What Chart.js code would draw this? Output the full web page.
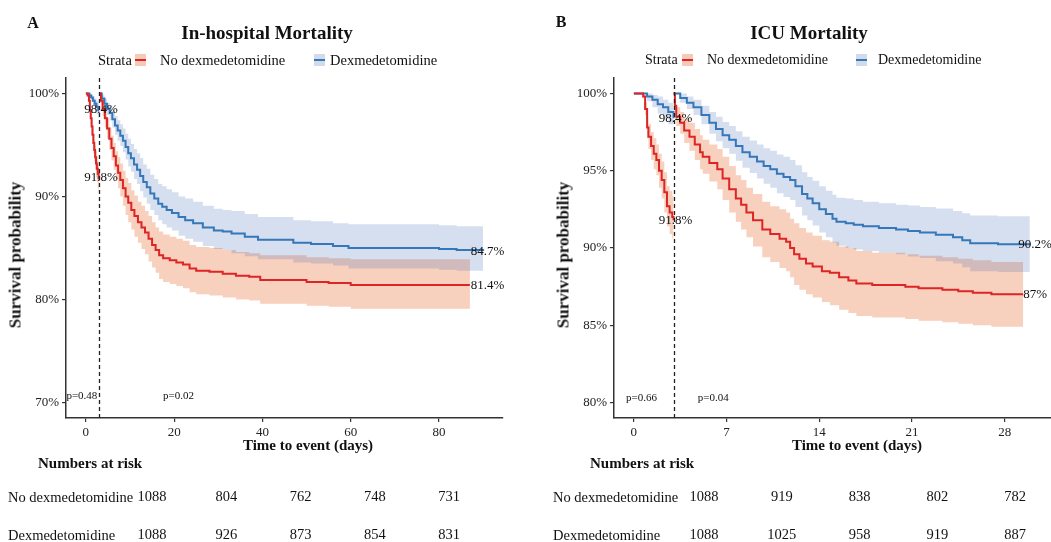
<!DOCTYPE html>
<html>
<head>
<meta charset="utf-8">
<script src="https://cdn.jsdelivr.net/npm/chart.js@4.4.1/dist/chart.umd.min.js"></script>
<style>
  body { margin: 0; background: #fff; }
  #wrap { position: relative; width: 1051px; height: 542px; overflow: hidden;
          font-family: "Liberation Serif", "Times New Roman", serif; color: #111; }
  canvas { position: absolute; }
  .t { position: absolute; white-space: nowrap; line-height: 1; }
  .c { transform: translate(-50%, -50%); }
  .l { transform: translateY(-50%); }
  .b { font-weight: bold; }
  .rot { transform: translate(-50%, -50%) rotate(-90deg); }
  .key { position: absolute; width: 11px; height: 12px; transform: translateY(-50%); }
  .key::after { content: ""; position: absolute; left: 0; right: 0; top: 5px; height: 2px; background: currentColor; }
</style>
</head>
<body>
<div id="wrap">
  <canvas id="hospCanvas" width="526" height="542" style="left:0;top:0"></canvas>
  <canvas id="icuCanvas" width="525" height="542" style="left:526px;top:0"></canvas>
  <canvas id="hospRisk" width="526" height="62" style="left:0;top:480px"></canvas>
  <canvas id="icuRisk" width="525" height="62" style="left:526px;top:480px"></canvas>

  <div class="t c b" style="left:33px;top:23px;font-size:16px">A</div>
  <div class="t c b" style="left:267px;top:32px;font-size:19px">In-hospital Mortality</div>
  <div class="t l" style="left:98px;top:60px;font-size:14.5px">Strata</div>
  <div class="key" style="left:135px;top:60px;background:#f5cbb8;color:#dd2525"></div>
  <div class="t l" id="hospLeg0" style="left:160px;top:60px;font-size:14.5px"></div>
  <div class="key" style="left:314px;top:60px;background:#d2dbea;color:#3577b8"></div>
  <div class="t l" id="hospLeg1" style="left:330px;top:60px;font-size:14.5px"></div>
  <div class="t rot b" style="left:15px;top:255px;font-size:17px">Survival probability</div>
  <div class="t c b" style="left:308px;top:445px;font-size:15px">Time to event (days)</div>
  <div class="t l b" style="left:38px;top:463px;font-size:15px">Numbers at risk</div>
  <div class="t l" id="hospRow0" style="left:8px;top:497px;font-size:14.5px"></div>
  <div class="t l" id="hospRow1" style="left:8px;top:535px;font-size:14.5px"></div>

  <div class="t c b" style="left:561px;top:22px;font-size:16px">B</div>
  <div class="t c b" style="left:809px;top:32px;font-size:19px">ICU Mortality</div>
  <div class="t l" style="left:645px;top:60px;font-size:14px">Strata</div>
  <div class="key" style="left:682px;top:60px;background:#f5cbb8;color:#dd2525"></div>
  <div class="t l" id="icuLeg0" style="left:707px;top:60px;font-size:14px"></div>
  <div class="key" style="left:856px;top:60px;background:#d2dbea;color:#3577b8"></div>
  <div class="t l" id="icuLeg1" style="left:878px;top:60px;font-size:14px"></div>
  <div class="t rot b" style="left:563px;top:255px;font-size:17px">Survival probability</div>
  <div class="t c b" style="left:857px;top:445px;font-size:15px">Time to event (days)</div>
  <div class="t l b" style="left:590px;top:463px;font-size:15px">Numbers at risk</div>
  <div class="t l" id="icuRow0" style="left:553px;top:497px;font-size:14.5px"></div>
  <div class="t l" id="icuRow1" style="left:553px;top:535px;font-size:14.5px"></div>
</div>

<script>
// strata
const groups = ['No dexmedetomidine', 'Dexmedetomidine'];
const landmarkDay = 3;

// ---- In-hospital mortality, days 0-3 ----
const hospNoDexT1 = [0, 0.4, 0.7, 0.9, 1.1, 1.3, 1.5, 1.7, 1.9, 2.1, 2.3, 2.5, 2.7, 2.9, 3];
const hospNoDexS1 = [100, 99.8, 99.3, 98.4, 97.6, 96.8, 96.0, 95.2, 94.5, 93.8, 93.2, 92.7, 92.2, 91.8, 91.8];
const hospNoDexLo1 = [100, 99.7, 99.0, 97.9, 96.9, 96.0, 95.1, 94.2, 93.4, 92.6, 91.9, 91.4, 90.8, 90.4, 90.4];
const hospNoDexHi1 = [100, 99.9, 99.6, 98.9, 98.3, 97.6, 96.9, 96.1, 95.5, 94.9, 94.4, 93.9, 93.5, 93.1, 93.1];

const hospDexT1 = [0, 0.5, 0.8, 1.2, 1.6, 2.0, 2.4, 2.8, 3];
const hospDexS1 = [100, 100, 99.8, 99.6, 99.3, 99.0, 98.7, 98.4, 98.4];
const hospDexLo1 = [100, 100, 99.5, 99.2, 98.8, 98.4, 98.0, 97.6, 97.6];
const hospDexHi1 = [100, 100, 100, 99.9, 99.7, 99.5, 99.3, 99.1, 99.1];

// ---- In-hospital mortality, after day 3 ----
const hospNoDexT2 = [3, 3.4, 3.8, 4.3, 4.8, 5.3, 5.8, 6.3, 6.8, 7.3, 7.8, 8.4, 9.0, 9.6, 10.3, 11.0, 11.8, 12.6, 13.4, 14.2, 15.0, 15.8, 16.6, 17.5, 19.0, 20.5, 22.0, 23.5, 25.0, 28.0, 31.0, 34.0, 37.0, 39.5, 45.0, 50.0, 55.0, 60.0, 87.0];
const hospNoDexS2 = [100, 99.3, 98.5, 97.6, 96.6, 95.6, 94.7, 93.9, 93.0, 92.3, 91.6, 90.8, 90.0, 89.4, 88.7, 88.1, 87.5, 87.0, 86.5, 85.9, 85.3, 84.8, 84.3, 84.0, 83.8, 83.6, 83.4, 83.0, 82.8, 82.7, 82.5, 82.3, 82.2, 81.9, 81.9, 81.7, 81.6, 81.4, 81.4];
const hospNoDexLo2 = [100, 98.8, 97.8, 96.7, 95.6, 94.5, 93.5, 92.6, 91.6, 90.8, 90.0, 89.1, 88.2, 87.5, 86.8, 86.1, 85.5, 84.9, 84.4, 83.7, 83.1, 82.6, 82.0, 81.7, 81.5, 81.3, 81.1, 80.7, 80.5, 80.4, 80.2, 80.0, 79.9, 79.6, 79.6, 79.4, 79.3, 79.1, 79.1];
const hospNoDexHi2 = [100, 99.8, 99.2, 98.5, 97.6, 96.7, 95.9, 95.2, 94.4, 93.8, 93.2, 92.5, 91.8, 91.3, 90.6, 90.1, 89.5, 89.1, 88.6, 88.1, 87.5, 87.0, 86.6, 86.3, 86.1, 85.9, 85.7, 85.3, 85.1, 85.0, 84.8, 84.6, 84.5, 84.3, 84.3, 84.1, 84.0, 83.9, 83.9];

const hospDexT2 = [3, 3.6, 4.2, 4.8, 5.4, 6.0, 6.6, 7.2, 7.8, 8.4, 9.0, 9.6, 10.2, 10.9, 11.6, 12.3, 13.0, 13.8, 14.6, 15.5, 16.4, 17.3, 18.3, 19.5, 21.0, 22.5, 24.3, 26.5, 29.0, 31.0, 33.0, 36.0, 39.0, 47.0, 51.0, 56.0, 59.5, 80.0, 84.0, 90.0];
const hospDexS2 = [100, 99.5, 99.0, 98.5, 98.1, 97.5, 96.9, 96.4, 95.9, 95.4, 94.8, 94.2, 93.7, 93.1, 92.6, 92.0, 91.4, 90.9, 90.3, 89.8, 89.3, 89.0, 88.7, 88.4, 88.0, 87.7, 87.4, 87.0, 86.7, 86.6, 86.4, 86.1, 85.8, 85.5, 85.4, 85.2, 85.0, 84.9, 84.8, 84.7];
const hospDexLo2 = [100, 99.1, 98.5, 97.9, 97.4, 96.7, 96.0, 95.4, 94.9, 94.3, 93.6, 92.9, 92.4, 91.7, 91.2, 90.5, 89.9, 89.3, 88.7, 88.2, 87.7, 87.3, 87.0, 86.7, 86.2, 85.9, 85.6, 85.2, 84.9, 84.8, 84.5, 84.2, 83.9, 83.6, 83.5, 83.3, 83.0, 82.9, 82.8, 82.7];
const hospDexHi2 = [100, 99.9, 99.5, 99.1, 98.8, 98.3, 97.8, 97.4, 97.0, 96.6, 96.1, 95.6, 95.1, 94.6, 94.2, 93.7, 93.1, 92.7, 92.1, 91.7, 91.2, 91.0, 90.7, 90.4, 90.0, 89.8, 89.5, 89.1, 88.8, 88.7, 88.6, 88.3, 88.0, 87.7, 87.6, 87.4, 87.3, 87.2, 87.1, 87.0];

// ---- ICU mortality, days 0-3 ----
const icuNoDexT1 = [0, 0.5, 0.7, 0.85, 1.0, 1.1, 1.3, 1.5, 1.7, 1.9, 2.1, 2.3, 2.5, 2.7, 2.9, 3.0];
const icuNoDexS1 = [100, 100, 99.8, 99.0, 97.8, 97.2, 96.6, 96.1, 95.7, 95.0, 94.4, 93.6, 92.7, 92.3, 92.0, 91.8];
const icuNoDexLo1 = [100, 100, 99.7, 98.6, 97.1, 96.4, 95.7, 95.1, 94.7, 93.9, 93.2, 92.3, 91.4, 90.9, 90.6, 90.4];
const icuNoDexHi1 = [100, 100, 99.9, 99.4, 98.5, 98.0, 97.5, 97.1, 96.7, 96.1, 95.6, 94.9, 94.0, 93.7, 93.4, 93.2];

const icuDexT1 = [0, 0.8, 1.0, 1.4, 1.8, 2.2, 2.6, 3.0];
const icuDexS1 = [100, 100, 99.8, 99.6, 99.3, 99.1, 98.8, 98.4];
const icuDexLo1 = [100, 100, 99.5, 99.1, 98.7, 98.4, 98.0, 97.6];
const icuDexHi1 = [100, 100, 100, 99.9, 99.8, 99.6, 99.4, 99.2];

// ---- ICU mortality, after day 3 ----
const icuNoDexT2 = [3, 3.1, 3.2, 3.5, 3.8, 4.2, 4.6, 5.0, 5.2, 5.7, 6.3, 6.7, 7.2, 7.7, 8.1, 8.5, 9.0, 9.7, 10.3, 11.0, 11.5, 11.8, 12.1, 12.5, 13.0, 13.5, 14.2, 14.8, 15.5, 16.2, 16.8, 18.0, 20.5, 21.5, 23.3, 24.5, 25.6, 27.0, 29.4];
const icuNoDexS2 = [100, 99.2, 98.5, 98.1, 97.6, 97.2, 96.7, 96.2, 95.9, 95.5, 95.1, 94.5, 93.8, 93.2, 92.8, 92.3, 91.8, 91.2, 90.9, 90.6, 90.4, 90.0, 89.6, 89.3, 89.0, 88.8, 88.5, 88.4, 88.1, 87.9, 87.7, 87.6, 87.5, 87.4, 87.3, 87.2, 87.1, 87.0, 87.0];
const icuNoDexLo2 = [100, 98.8, 97.9, 97.4, 96.8, 96.3, 95.7, 95.1, 94.8, 94.3, 93.8, 93.1, 92.3, 91.7, 91.2, 90.7, 90.1, 89.4, 89.1, 88.7, 88.5, 88.1, 87.6, 87.3, 87.0, 86.8, 86.5, 86.3, 86.0, 85.8, 85.6, 85.5, 85.4, 85.3, 85.2, 85.1, 85.0, 84.9, 84.9];
const icuNoDexHi2 = [100, 99.6, 99.1, 98.8, 98.4, 98.1, 97.7, 97.3, 97.0, 96.7, 96.4, 95.9, 95.3, 94.7, 94.4, 93.9, 93.5, 93.0, 92.7, 92.5, 92.3, 91.9, 91.6, 91.3, 91.0, 90.8, 90.5, 90.4, 90.1, 90.0, 89.8, 89.7, 89.6, 89.5, 89.4, 89.3, 89.2, 89.1, 89.1];

const icuDexT2 = [3, 3.5, 4.0, 4.5, 5.1, 5.7, 6.2, 6.7, 7.2, 7.7, 8.2, 8.75, 9.3, 9.8, 10.3, 10.8, 11.3, 11.8, 12.2, 12.7, 13.1, 13.5, 14.0, 14.5, 15.0, 15.3, 16.0, 16.6, 17.3, 18.5, 19.8, 20.7, 21.6, 22.8, 24.1, 24.8, 25.4, 27.5, 29.9];
const icuDexS2 = [100, 99.7, 99.4, 99.1, 98.6, 98.1, 97.7, 97.3, 97.0, 96.6, 96.2, 95.9, 95.6, 95.3, 95.1, 94.8, 94.6, 94.4, 94.0, 93.5, 93.2, 92.9, 92.5, 92.2, 91.9, 91.7, 91.6, 91.5, 91.4, 91.3, 91.2, 91.1, 91.0, 90.85, 90.7, 90.5, 90.3, 90.25, 90.2];
const icuDexLo2 = [100, 99.4, 99.0, 98.6, 98.0, 97.4, 96.9, 96.45, 96.1, 95.65, 95.2, 94.85, 94.5, 94.15, 93.9, 93.55, 93.3, 93.1, 92.65, 92.1, 91.8, 91.45, 91.0, 90.7, 90.35, 90.15, 90.0, 89.9, 89.8, 89.7, 89.6, 89.45, 89.35, 89.15, 89.0, 88.75, 88.5, 88.45, 88.35];
const icuDexHi2 = [100, 100, 99.8, 99.6, 99.2, 98.8, 98.5, 98.15, 97.9, 97.55, 97.2, 96.95, 96.7, 96.45, 96.3, 96.05, 95.9, 95.7, 95.35, 94.9, 94.6, 94.35, 94.0, 93.7, 93.45, 93.25, 93.2, 93.1, 93.0, 92.9, 92.8, 92.75, 92.65, 92.55, 92.4, 92.25, 92.1, 92.05, 92.05];

// ticks
const hospXTicks = [0, 20, 40, 60, 80];
const hospYTicks = [70, 80, 90, 100];
const icuXTicks = [0, 7, 14, 21, 28];
const icuYTicks = [80, 85, 90, 95, 100];

// labels on the plots
const hospLandmarkPct = [91.8, 98.4];
const icuLandmarkPct = [91.8, 98.4];
const hospEndPct = [81.4, 84.7];
const icuEndPct = [87, 90.2];
const hospPText = ['p=0.48', 'p=0.02'];
const hospPDay = [-0.9, 21];
const icuPText = ['p=0.66', 'p=0.04'];
const icuPDay = [0.57, 6.0];

// numbers at risk
const hospRiskTimes = [0, 20, 40, 60, 80];
const hospRiskNoDex = [1088, 804, 762, 748, 731];
const hospRiskDex = [1088, 926, 873, 854, 831];
const icuRiskTimes = [0, 7, 14, 21, 28];
const icuRiskNoDex = [1088, 919, 838, 802, 782];
const icuRiskDex = [1088, 1025, 958, 919, 887];

const RED = '#dd2525', BLUE = '#3577b8';
const RED_BAND = 'rgba(235,120,70,0.35)', BLUE_BAND = 'rgba(70,110,180,0.22)';
const FONT = 'Liberation Serif';

function pts(t, v) {
  return t.map((x, i) => ({ x: x, y: v[i] }));
}

function curve(t, s, lo, hi, line, band, bandOrder) {
  const base = { stepped: true, pointRadius: 0, borderWidth: 0, borderColor: 'transparent' };
  return [
    Object.assign({}, base, { data: pts(t, hi), fill: false, order: bandOrder }),
    Object.assign({}, base, { data: pts(t, lo), fill: '-1', backgroundColor: band, order: bandOrder }),
    { data: pts(t, s), stepped: true, pointRadius: 0, borderWidth: 2, borderColor: line, fill: false, order: 0 }
  ];
}

function decor(cfg) {
  return {
    id: 'decor',
    afterDatasetsDraw(chart) {
      const { ctx, chartArea: a, scales: { x, y } } = chart;
      ctx.save();
      const lx = Math.round(x.getPixelForValue(landmarkDay)) + 0.5;
      ctx.strokeStyle = '#222';
      ctx.lineWidth = 1.3;
      ctx.setLineDash([4, 3]);
      ctx.beginPath();
      ctx.moveTo(lx, a.top);
      ctx.lineTo(lx, a.bottom);
      ctx.stroke();
      ctx.setLineDash([]);

      ctx.fillStyle = '#111';
      ctx.textAlign = 'center';
      ctx.textBaseline = 'middle';
      ctx.font = '13px "' + FONT + '"';
      cfg.landmarkPct.forEach(v => ctx.fillText(v + '%', x.getPixelForValue(landmarkDay) + 2, y.getPixelForValue(v)));
      cfg.endPct.forEach(v => ctx.fillText(v + '%', x.getPixelForValue(cfg.endDay), y.getPixelForValue(v)));
      ctx.font = '11px "' + FONT + '"';
      cfg.pText.forEach((p, i) => ctx.fillText(p, x.getPixelForValue(cfg.pDay[i]), y.getPixelForValue(cfg.pY)));
      ctx.restore();
    }
  };
}

function kmChart(id, sets, xr, yr, xTicks, yTicks, yWidth, padRight, cfg) {
  const axisFont = { family: FONT, size: 13 };
  return new Chart(document.getElementById(id), {
    type: 'line',
    data: { datasets: sets },
    options: {
      responsive: false,
      animation: false,
      layout: { padding: { left: 0, right: padRight, top: 78, bottom: 84 } },
      plugins: { legend: { display: false }, tooltip: { enabled: false } },
      scales: {
        x: {
          type: 'linear', min: xr[0], max: xr[1],
          afterBuildTicks: s => { s.ticks = xTicks.map(v => ({ value: v })); },
          afterFit: s => { s.height = 40; },
          grid: { drawOnChartArea: false, drawTicks: true, tickLength: 4, color: '#333', lineWidth: 1.2 },
          border: { display: true, color: '#333', width: 1.5 },
          ticks: { color: '#222', font: axisFont, padding: 3, maxRotation: 0, autoSkip: false }
        },
        y: {
          type: 'linear', min: yr[0], max: yr[1],
          afterBuildTicks: s => { s.ticks = yTicks.map(v => ({ value: v })); },
          afterFit: s => { s.width = yWidth; },
          grid: { drawOnChartArea: false, drawTicks: true, tickLength: 4, color: '#333', lineWidth: 1.2 },
          border: { display: true, color: '#333', width: 1.5 },
          ticks: { color: '#222', font: axisFont, padding: 3, callback: v => v + '%' }
        }
      }
    },
    plugins: [decor(cfg)]
  });
}

function riskChart(id, times, rows, xMax, pad) {
  return new Chart(document.getElementById(id), {
    type: 'scatter',
    data: { datasets: [{ data: [] }] },
    options: {
      responsive: false,
      animation: false,
      layout: { padding: pad },
      plugins: { legend: { display: false }, tooltip: { enabled: false } },
      scales: {
        x: { type: 'linear', min: 0, max: xMax, display: false },
        y: { type: 'linear', min: 0, max: 1, reverse: true, display: false }
      }
    },
    plugins: [{
      id: 'riskText',
      afterDraw(chart) {
        const { ctx, scales: { x, y } } = chart;
        ctx.save();
        ctx.fillStyle = '#111';
        ctx.font = '14.5px "' + FONT + '"';
        ctx.textAlign = 'center';
        ctx.textBaseline = 'middle';
        rows.forEach((row, r) => {
          row.forEach((n, i) => ctx.fillText(String(n), x.getPixelForValue(times[i]), y.getPixelForValue(r)));
        });
        ctx.restore();
      }
    }]
  });
}

// text from the data
['hosp', 'icu'].forEach(p => {
  groups.forEach((g, i) => {
    document.getElementById(p + 'Leg' + i).textContent = g;
    document.getElementById(p + 'Row' + i).textContent = g;
  });
});

const hospSets = [].concat(
  curve(hospNoDexT1, hospNoDexS1, hospNoDexLo1, hospNoDexHi1, RED, RED_BAND, 3),
  curve(hospNoDexT2, hospNoDexS2, hospNoDexLo2, hospNoDexHi2, RED, RED_BAND, 3),
  curve(hospDexT1, hospDexS1, hospDexLo1, hospDexHi1, BLUE, BLUE_BAND, 2),
  curve(hospDexT2, hospDexS2, hospDexLo2, hospDexHi2, BLUE, BLUE_BAND, 2)
);
const icuSets = [].concat(
  curve(icuNoDexT1, icuNoDexS1, icuNoDexLo1, icuNoDexHi1, RED, RED_BAND, 3),
  curve(icuNoDexT2, icuNoDexS2, icuNoDexLo2, icuNoDexHi2, RED, RED_BAND, 3),
  curve(icuDexT1, icuDexS1, icuDexLo1, icuDexHi1, BLUE, BLUE_BAND, 2),
  curve(icuDexT2, icuDexS2, icuDexLo2, icuDexHi2, BLUE, BLUE_BAND, 2)
);

kmChart('hospCanvas', hospSets, [-4.5, 94.5], [68.5, 101.5], hospXTicks, hospYTicks, 66, 23,
  { landmarkPct: hospLandmarkPct, endPct: hospEndPct, endDay: 91, pText: hospPText, pDay: hospPDay, pY: 70.6 });
kmChart('icuCanvas', icuSets, [-1.5, 31.5], [79, 101], icuXTicks, icuYTicks, 88, 0,
  { landmarkPct: icuLandmarkPct, endPct: icuEndPct, endDay: 30.3, pText: icuPText, pDay: icuPDay, pY: 80.3 });

riskChart('hospRisk', hospRiskTimes, [hospRiskNoDex, hospRiskDex], 80, { left: 152, right: 77, top: 17, bottom: 7 });
riskChart('icuRisk', icuRiskTimes, [icuRiskNoDex, icuRiskDex], 28, { left: 178, right: 36, top: 17, bottom: 7 });
</script>
</body>
</html>
